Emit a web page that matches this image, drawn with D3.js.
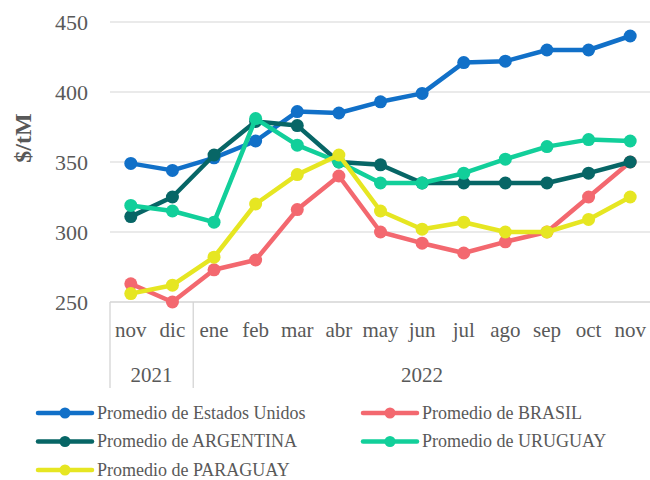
<!DOCTYPE html>
<html>
<head>
<meta charset="utf-8">
<script src="https://cdn.jsdelivr.net/npm/d3@7"></script>
<style>
  body { margin: 0; background: #fff; }
  text { font-family: "Liberation Serif", "Times New Roman", serif; fill: #595959; }
</style>
</head>
<body>
<svg id="chart" width="650" height="480"></svg>
<script>
// month labels, grouped by year
const months = ["nov", "dic", "ene", "feb", "mar", "abr", "may", "jun", "jul", "ago", "sep", "oct", "nov"];
const years = [{ label: "2021", from: 0, to: 1 }, { label: "2022", from: 2, to: 12 }];
const yTicks = [250, 300, 350, 400, 450];

const estadosUnidos = [349, 344, 353, 365, 386, 385, 393, 399, 421, 422, 430, 430, 440];
const brasil = [263, 250, 273, 280, 316, 340, 300, 292, 285, 293, 300, 325, 350];
const argentina = [311, 325, 355, 379, 376, 350, 348, 335, 335, 335, 335, 342, 350];
const uruguay = [319, 315, 307, 381, 362, 350, 335, 335, 342, 352, 361, 366, 365];
const paraguay = [256, 262, 282, 320, 341, 355, 315, 302, 307, 300, 300, 309, 325];

const series = [
    { name: "Promedio de Estados Unidos", values: estadosUnidos, color: "#1170c8" },
    { name: "Promedio de BRASIL", values: brasil, color: "#f3686f" },
    { name: "Promedio de ARGENTINA", values: argentina, color: "#076666" },
    { name: "Promedio de URUGUAY", values: uruguay, color: "#12cf9a" },
    { name: "Promedio de PARAGUAY", values: paraguay, color: "#e6e622" }
];

const svg = d3.select("#chart");
const plotLeft = 110, plotRight = 651, plotTop = 22, plotBottom = 302;

const x = d3.scaleBand()
    .domain(d3.range(months.length))
    .range([plotLeft, plotRight]);
const y = d3.scaleLinear()
    .domain([250, 450])
    .range([plotBottom, plotTop]);

// gridlines
svg.append("g")
    .selectAll("line")
    .data(yTicks.slice(1))
    .enter().append("line")
    .attr("x1", plotLeft).attr("x2", plotRight)
    .attr("y1", d => y(d)).attr("y2", d => y(d))
    .attr("stroke", "#e3e3e3")
    .attr("stroke-width", 1.3);

// y tick labels
svg.append("g")
    .selectAll("text")
    .data(yTicks)
    .enter().append("text")
    .attr("x", 88)
    .attr("y", d => y(d) + 8)
    .attr("text-anchor", "end")
    .style("font-size", "22px")
    .text(d => d);

svg.append("text")
    .attr("transform", "translate(31,138) rotate(-90)")
    .attr("text-anchor", "middle")
    .style("font-size", "24px")
    .style("font-weight", "bold")
    .text("$/tM");

// category axis: baseline and group separators
svg.append("line")
    .attr("x1", plotLeft).attr("x2", plotRight)
    .attr("y1", plotBottom).attr("y2", plotBottom)
    .attr("stroke", "#d4d4d4").attr("stroke-width", 1.3);

const sepX = [plotLeft, x(years[1].from), plotRight];
svg.append("g")
    .selectAll("line")
    .data(sepX)
    .enter().append("line")
    .attr("x1", d => d).attr("x2", d => d)
    .attr("y1", plotBottom).attr("y2", 388)
    .attr("stroke", "#d4d4d4").attr("stroke-width", 1.3);

svg.append("g")
    .selectAll("text")
    .data(months)
    .enter().append("text")
    .attr("x", (d, i) => x(i) + x.bandwidth() / 2)
    .attr("y", 337)
    .attr("text-anchor", "middle")
    .style("font-size", "21px")
    .text(d => d);

svg.append("g")
    .selectAll("text")
    .data(years)
    .enter().append("text")
    .attr("x", d => (x(d.from) + x(d.to) + x.bandwidth()) / 2)
    .attr("y", 382)
    .attr("text-anchor", "middle")
    .style("font-size", "21px")
    .text(d => d.label);

// lines and markers
const line = d3.line()
    .x((d, i) => x(i) + x.bandwidth() / 2)
    .y(d => y(d));

series.forEach(function (s) {
    const g = svg.append("g");
    g.append("path")
        .attr("d", line(s.values))
        .attr("fill", "none")
        .attr("stroke", s.color)
        .attr("stroke-width", 4.5)
        .attr("stroke-linejoin", "round");
    g.selectAll("circle")
        .data(s.values)
        .enter().append("circle")
        .attr("cx", (d, i) => x(i) + x.bandwidth() / 2)
        .attr("cy", d => y(d))
        .attr("r", 6.5)
        .attr("fill", s.color);
});

// legend
const legend = svg.append("g")
    .selectAll("g")
    .data(series)
    .enter().append("g")
    .attr("transform", (d, i) => "translate(" + (i % 2 === 0 ? 38 : 363) + "," + (413 + Math.floor(i / 2) * 28.5) + ")");

legend.append("line")
    .attr("x1", 0).attr("x2", 54)
    .attr("stroke", d => d.color)
    .attr("stroke-width", 4.5)
    .attr("stroke-linecap", "round");
legend.append("circle")
    .attr("cx", 27)
    .attr("r", 5.5)
    .attr("fill", d => d.color);
legend.append("text")
    .attr("x", 59)
    .attr("y", 5.5)
    .style("font-size", "18px")
    .text(d => d.name);
</script>
</body>
</html>
